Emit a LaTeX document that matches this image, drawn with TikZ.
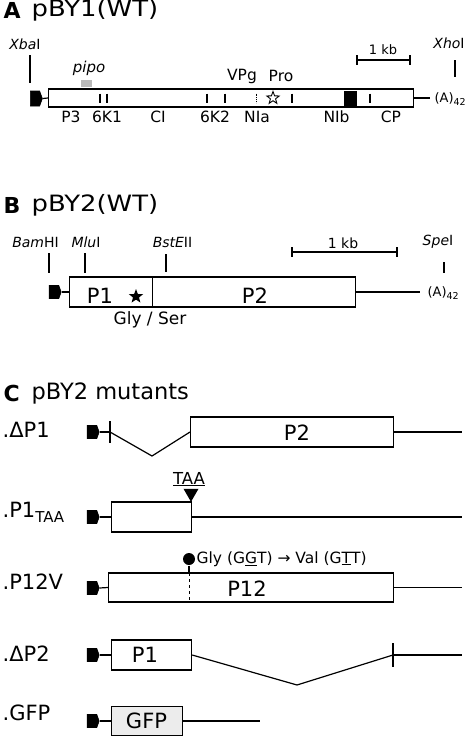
\documentclass[tikz,border=0pt]{standalone}
\usepackage{fontspec}
\setmainfont{DejaVu Sans}
\usetikzlibrary{shapes.symbols,shapes.geometric,calc}
\newcommand{\fs}[1]{\fontsize{#1}{#1}\selectfont}
\newcommand{\subtx}[1]{\raisebox{-0.35ex}{\fs{9.5}#1}}
\begin{document}
\begin{tikzpicture}[x=1pt,y=-1pt,line width=1.2pt,
  promoter/.style={shape=signal,signal to=east,signal pointer angle=140,fill=black,draw=black,line width=0.6pt,inner sep=0pt,minimum width=12pt,minimum height=13pt},
  gbox/.style={draw=black,line width=1.2pt,inner sep=0pt,anchor=west},
  ttl/.style={inner sep=0pt,anchor=west,font=\fs{22.5}},
  ltr/.style={inner sep=0pt,anchor=west,font=\fs{22}\bfseries},
  lbl/.style={inner sep=0pt,font=\fs{15.5}},
  site/.style={inner sep=0pt,font=\fs{14}},
  big/.style={inner sep=0pt,font=\fs{21}},
  mlab/.style={inner sep=0pt,anchor=west,font=\fs{21}},
  poly/.style={inner sep=0pt,anchor=west,font=\fs{13}},
  tick/.style={line width=1.2pt},
  scalebar/.style={line width=1.2pt}]
\useasboundingbox (0,0) rectangle (465,737);

% ---------------- Panel A ----------------
\node[ltr] (tA) at (3,10.5) {A};
\node[ttl] (tA2) at (31,10.5) {\scalebox{1.15}[1]{pBY1(WT)}};
\node[site] (xba) at (25,44) {\itshape Xba\upshape I};
\coordinate (xbaT) at (30,55); \coordinate (xbaB) at (30,83);
\draw[tick] (xbaT) -- (xbaB);
\node[site] (xho) at (449,43) {\itshape Xho\upshape I};
\coordinate (xhoT) at (455,60); \coordinate (xhoB) at (455,77);
\draw[tick] (xhoT) -- (xhoB);
\node[lbl,font=\fs{15}\itshape] (pipo) at (89,68) {pipo};
\node[fill=gray!55,inner sep=0pt,minimum width=11pt,minimum height=7pt] (pipobox) at (86.5,83.5) {};
\node[promoter,minimum height=15pt] (pA) at (35,98.5) {};
\node[gbox,minimum width=365pt,minimum height=18pt] (boxA) at (48,98) {};
\draw (pA.east) -- (boxA.west);
\foreach \xx in {100,107,207,225,292,370}{\draw[tick] (\xx,93.5) -- (\xx,102.5);}
\draw[line width=0.8pt,densely dotted] (256,93.5) -- (256,102.5);
\node[star,star points=5,star point ratio=2.4,draw,line width=0.9pt,inner sep=0pt,minimum size=13pt] (pro) at (273,98) {};
\node[fill=black,inner sep=0pt,minimum width=13pt,minimum height=15pt] (nib) at (350.5,98.5) {};
\node[lbl] (vpg) at (242,76) {VPg};
\node[lbl] (prol) at (281,76) {Pro};
\node[lbl] (p3) at (71,117) {P3};
\node[lbl] (k1) at (107,117) {6K1};
\node[lbl] (ci) at (158,117) {CI};
\node[lbl] (k2) at (215,117) {6K2};
\node[lbl] (nia) at (257,117) {NIa};
\node[lbl] (nibl) at (336.5,117) {NIb};
\node[lbl] (cp) at (391,117) {CP};
\coordinate (sA1) at (357,60); \coordinate (sA2) at (410,60);
\draw[scalebar] (sA1) -- (sA2);
\draw[tick] (357,55) -- (357,65);
\draw[tick] (410,55) -- (410,65);
\node[site,font=\fs{13}] (kbA) at (383,50) {1 kb};
\coordinate (tailA) at (430,98);
\draw (boxA.east) -- (tailA);
\node[poly] (polyA) at (434,99) {(A)\subtx{42}};

% ---------------- Panel B ----------------
\node[ltr] (tB) at (3,205.5) {B};
\node[ttl] (tB2) at (31,205.5) {\scalebox{1.15}[1]{pBY2(WT)}};
\node[site] (bam) at (35.5,242) {\itshape Bam\upshape HI};
\draw[tick] (49,253) -- (49,273);
\node[site] (mlu) at (86,242) {\itshape Mlu\upshape I};
\draw[tick] (85,253) -- (85,273);
\node[site] (bst) at (172.5,242) {\itshape BstE\upshape II};
\draw[tick] (166,254) -- (166,272);
\node[site] (spe) at (438,242) {\itshape Spe\upshape I};
\draw[tick] (444,262) -- (444,273);
\coordinate (sB1) at (292,252); \coordinate (sB2) at (397,252);
\draw[scalebar] (sB1) -- (sB2);
\draw[tick] (292,247) -- (292,257);
\draw[tick] (397,247) -- (397,257);
\node[site] (kbB) at (343,243) {1 kb};
\node[promoter] (pB) at (54,292) {};
\node[gbox,minimum width=83pt,minimum height=30pt] (b1) at (69,292) {};
\node[gbox,minimum width=203pt,minimum height=30pt] (b2) at (152,292) {};
\draw (pB.east) -- (b1.west);
\node[big] (p1B) at (100,296) {P1};
\node[star,star points=5,star point ratio=2.4,fill=black,inner sep=0pt,minimum size=15pt] (starB) at (136,296.5) {};
\node[big] (p2B) at (255,296) {P2};
\coordinate (tailB) at (420,292);
\draw (b2.east) -- (tailB);
\node[poly] (polyB) at (427,293) {(A)\subtx{42}};
\node[lbl,font=\fs{17}] (gs) at (150,319.5) {Gly / Ser};

% ---------------- Panel C ----------------
\node[ltr] (tC) at (3,393.5) {C};
\node[ttl] (tC2) at (31,393.5) {pBY2 mutants};

% dP1
\node[mlab] (m1) at (2,430) {.ΔP1};
\node[promoter] (p1) at (92,432) {};
\coordinate (d1a) at (110,432);
\coordinate (d1b) at (152,456);
\node[gbox,minimum width=203pt,minimum height=30pt] (c1) at (190,432) {};
\draw (p1.east) -- (d1a);
\draw[tick] (110,421) -- (110,443);
\draw (d1a) -- (d1b) -- (c1.west);
\node[big] (c1t) at (297,433) {P2};
\coordinate (e1) at (462,432);
\draw (c1.east) -- (e1);

% P1TAA
\node[mlab] (m2) at (2,512) {.P1\raisebox{-0.45ex}{\fs{15}TAA}};
\node[promoter] (p2) at (92,517) {};
\node[gbox,minimum width=80pt,minimum height=30pt] (c2) at (111,517) {};
\draw (p2.east) -- (c2.west);
\coordinate (e2) at (462,517);
\draw (c2.east) -- (e2);
\node[isosceles triangle,shape border rotate=-90,isosceles triangle apex angle=60,fill=black,inner sep=0pt,minimum width=15pt,minimum height=13pt,anchor=apex] (taa) at (191,503) {};
\node[lbl,font=\fs{16.5}] (taat) at (189,479) {\underline{TAA}};

% P12V
\node[mlab] (m3) at (2,582) {.P12V};
\node[promoter] (p3m) at (92,588) {};
\node[gbox,minimum width=285pt,minimum height=29pt] (c3) at (108,587.5) {};
\draw (p3m.east) -- (c3.west);
\coordinate (e3) at (462,587.5);
\draw (c3.east) -- (e3);
\draw[line width=0.9pt,dashed] (189,573) -- (189,602);
\node[circle,fill=black,inner sep=0pt,minimum size=12pt] (lol) at (189,559) {};
\draw[line width=1.2pt] (lol.south) -- (189,573);
\node[inner sep=0pt,anchor=west,font=\fs{15.5}] (mut) at (196,559) {Gly (G\underline{G}T) → Val (G\underline{T}T)};
\node[big] (c3t) at (247,589) {P12};

% dP2
\node[mlab] (m4) at (2,654) {.ΔP2};
\node[promoter] (p4) at (92,655) {};
\node[gbox,minimum width=80pt,minimum height=30pt] (c4) at (111,655) {};
\draw (p4.east) -- (c4.west);
\node[big] (c4t) at (145,655) {P1};
\coordinate (d4b) at (297,685);
\coordinate (d4c) at (393,655);
\draw (c4.east) -- (d4b) -- (d4c);
\draw[tick] (393,643) -- (393,667);
\coordinate (e4) at (462,655);
\draw (d4c) -- (e4);

% GFP
\node[mlab] (m5) at (2,713) {.GFP};
\node[promoter] (p5) at (92,721) {};
\node[gbox,fill=gray!15,minimum width=71pt,minimum height=29pt] (c5) at (111,721) {};
\draw (p5.east) -- (c5.west);
\node[big] (c5t) at (146.5,721) {GFP};
\coordinate (e5) at (260,721);
\draw (c5.east) -- (e5);
\end{tikzpicture}
\end{document}
